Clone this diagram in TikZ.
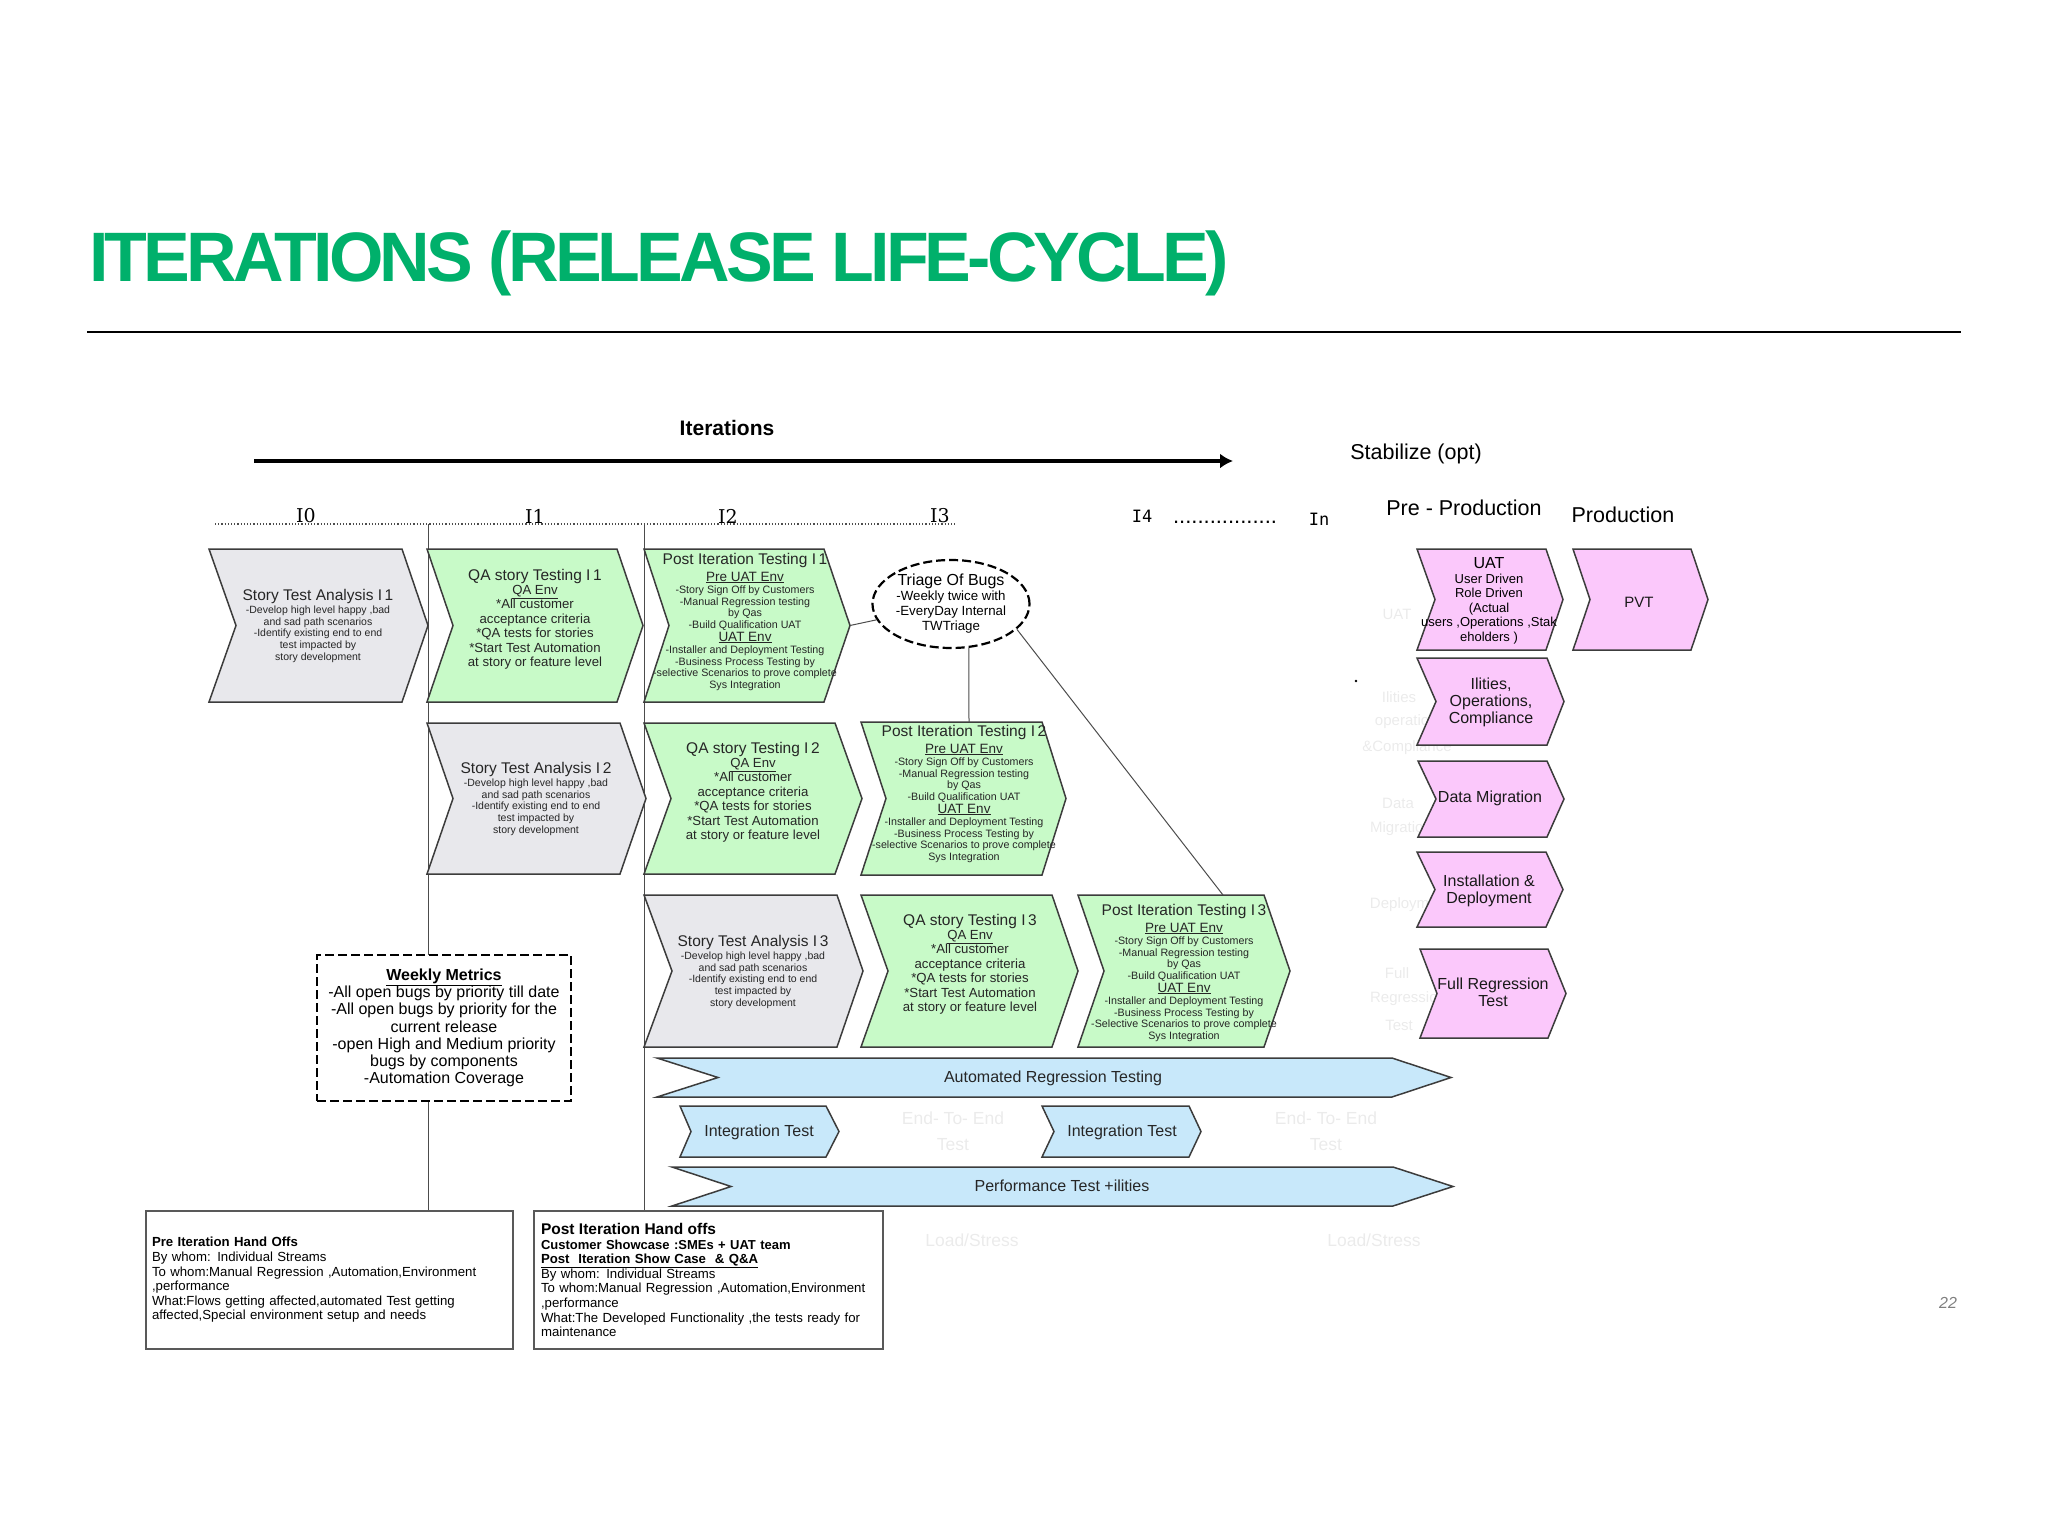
\documentclass[tikz,border=0pt]{standalone}
\usepackage{fontspec}
\setmainfont{Liberation Sans}
\newfontfamily\titlefont{Liberation Sans}[LetterSpace=-5.5]
\newfontfamily\slabfont{DejaVu Serif}
\newfontfamily\monofont{DejaVu Sans Mono}
\usetikzlibrary{arrows.meta,shapes.geometric}
\definecolor{TitleGreen}{HTML}{00B06B}
\definecolor{ChevGrey}{HTML}{E8E8EC}
\definecolor{ChevGreen}{HTML}{C8FAC8}
\definecolor{ChevPink}{HTML}{FBC8FB}
\definecolor{ChevBlue}{HTML}{C8E8FA}
\definecolor{Faint}{HTML}{EBEBEB}
\definecolor{Edge}{HTML}{3C3C3C}
\newcommand{\fs}[2]{\fontsize{#1}{#2}\selectfont}
% name, colour, left, notch, right, tip, top, bottom
\newcommand{\chevron}[8]{
	\draw [Chevron, fill=#2] (#3,#7) -- (#5,#7) -- (#6,{(#7+#8)/2}) -- (#5,#8) -- (#3,#8) -- (#4,{(#7+#8)/2}) -- cycle;
	\coordinate (#1) at (#6,{(#7+#8)/2});
}
\newcommand{\StoryText}[1]{{\fs{15.5}{15}Story Test Analysis #1}\\[1pt]-Develop high level happy ,bad\\and sad path scenarios\\-Identify existing end to end\\test impacted by\\story development}
\newcommand{\QAText}[1]{{\fs{15.5}{15}QA story Testing #1}\\\underline{QA Env}\\*All customer\\acceptance criteria\\*QA tests for stories\\*Start Test Automation\\at story or feature level}
\newcommand{\PostText}[2]{{\fs{15.5}{15}Post Iteration Testing #1}\\[3pt]{\fs{13.5}{15}\underline{Pre UAT Env}}\\[1pt]-Story Sign Off by Customers\\-Manual Regression testing\\by Qas\\-Build Qualification UAT\\[1pt]{\fs{13.5}{15}\underline{UAT Env}}\\[1pt]-Installer and Deployment Testing\\-Business Process Testing by\\-#2elective Scenarios to prove complete\\Sys Integration}
\begin{document}
\begin{tikzpicture}[x=1pt,y=-1pt]
	\tikzset{Chevron/.style={draw=Edge, line width=1.5pt, line join=miter}}
	\tikzset{StoryLabel/.style={inner sep=0pt, align=center, text=black!85, font=\fs{10.5}{11.8}}}
	\tikzset{QALabel/.style={inner sep=0pt, align=center, text=black!85, font=\fs{13.2}{14.4}}}
	\tikzset{PostLabel/.style={inner sep=0pt, align=center, text=black!85, font=\fs{10.7}{11.6}}}
	\tikzset{PinkLabel/.style={inner sep=0pt, align=center, text=black!90, font=\fs{16}{17}}}
	\tikzset{BlueLabel/.style={inner sep=0pt, align=center, text=black!85, font=\fs{16}{17}}}
	\tikzset{Header/.style={inner sep=0pt, align=center, font=\fs{21.5}{24}}}
	\tikzset{IterLabel/.style={inner sep=0pt, font=\fs{19}{20}\slabfont}}
	\tikzset{FaintLabel/.style={inner sep=0pt, text=Faint, font=\fs{15}{17}}}
	\tikzset{FaintWide/.style={inner sep=0pt, text=Faint, font=\fs{17.5}{17}}}
	\tikzset{HandOff/.style={draw=black!65, line width=1.2pt, fill=white, inner sep=0pt, align=left, font=\fs{13.2}{14.6}}}
	\tikzset{Link/.style={draw=black!70, line width=1pt}}
	\tikzset{LongDash/.style={draw, line width=2.2pt, dash pattern=on 9pt off 4pt}}
	\useasboundingbox (0,0) rectangle (2048,1536);

	\node (Title) at (89,263) [anchor=west, inner sep=0pt, text=TitleGreen, font=\fs{70}{72}\titlefont\bfseries] {ITERATIONS (RELEASE LIFE-CYCLE)};
	\coordinate (RuleL) at (87,332);
	\coordinate (RuleR) at (1961,332);
	\draw [line width=1.6pt] (RuleL) to (RuleR);
	\node (PageNo) at (1948,1303) [inner sep=0pt, text=black!50, font=\fs{16}{18}\itshape] {22};

	% headings
	\node (Iterations) at (727,428) [inner sep=0pt, font=\fs{21}{22}\bfseries] {Iterations};
	\coordinate (IterL) at (254,461);
	\coordinate (IterR) at (1233,461);
	\draw [-{Latex[length=13pt,width=15pt]}, line width=4.5pt] (IterL) to (IterR);
	\node (Stabilize) at (1416,454) [Header] {Stabilize (opt)};
	\node (PreProd) at (1464,508) [Header] {Pre - Production};
	\node (Prod) at (1623,515) [Header] {Production};
	\node (I0) at (306,516) [IterLabel] {I0};
	\node (I1) at (535,516) [IterLabel] {I1};
	\node (I2) at (728,516) [IterLabel] {I2};
	\node (I3) at (940,516) [IterLabel] {I3};
	\node (I4) at (1142,516) [inner sep=0pt, font=\fs{17}{20}\monofont] {I4};
	\node (Dots) at (1225,522) [inner sep=0pt, font=\fs{22}{20}] {.................};
	\node (In) at (1319,519) [inner sep=0pt, font=\fs{17}{20}\monofont] {In};
	\coordinate (DotL) at (215,524);
	\coordinate (DotR) at (955,524);
	\draw [dotted, line width=1.2pt, black!70] (DotL) to (DotR);
	\node (Speck) at (1356,681) [circle, fill, inner sep=1pt] {};

	% faint leftovers
	\node (FaintUAT) at (1397,614) [FaintLabel] {UAT};
	\node (FaintIlities) at (1399,697) [FaintLabel] {Ilities};
	\node (FaintOper) at (1410,722) [FaintLabel] {operations};
	\node (FaintComp) at (1407,748) [FaintLabel] {\&Compliance};
	\node (FaintData) at (1398,803) [FaintLabel] {Data};
	\node (FaintMigr) at (1401,829) [FaintLabel] {Migration};
	\node (FaintDepl) at (1410,905) [FaintLabel] {Deployment};
	\node (FaintFull) at (1397,973) [FaintLabel] {Full};
	\node (FaintRegr) at (1408,999) [FaintLabel] {Regression};
	\node (FaintTest) at (1399,1025) [FaintLabel] {Test};
	\node (FaintEnd1) at (953,1118) [FaintWide] {End-\ To-\ End};
	\node (FaintTest1) at (953,1145) [FaintWide] {Test};
	\node (FaintEnd2) at (1326,1118) [FaintWide] {End-\ To-\ End};
	\node (FaintTest2) at (1326,1145) [FaintWide] {Test};
	\node (FaintLoad1) at (972,1240) [FaintWide] {Load/Stress};
	\node (FaintLoad2) at (1374,1240) [FaintWide] {Load/Stress};

	% stream lines
	\coordinate (StreamA) at (428,524);
	\coordinate (StreamB) at (644,524);
	\node (PreHandOff) at (329.5,1280) [HandOff, minimum width=367, minimum height=138, text width=355] {\textbf{Pre Iteration Hand Offs}\\By whom: Individual Streams\\To whom:Manual Regression ,Automation,Environment\\,performance\\What:Flows getting affected,automated Test getting\\affected,Special environment setup and needs};
	\node (PostHandOff) at (708.5,1280) [HandOff, minimum width=349, minimum height=138, text width=335] {{\fs{15.5}{15}\textbf{Post Iteration Hand offs}}\\{\fs{13}{14.6}\textbf{Customer Showcase :SMEs + UAT team}}\\\textbf{\underline{Post\ \ Iteration Show Case \ \& Q\&A}}\\By whom: Individual Streams\\To whom:Manual Regression ,Automation,Environment\\,performance\\What:The Developed Functionality ,the tests ready for\\maintenance};
	\draw [Link] (StreamA) to (StreamA |- PreHandOff.north);
	\draw [Link] (StreamB) to (StreamB |- PostHandOff.north);
	\node (Weekly) at (444,1028) [LongDash, fill=white, inner sep=0pt, minimum width=254, minimum height=146, align=center, font=\fs{16}{17.2}] {\textbf{\underline{Weekly Metrics}}\\-All open bugs by priority till date\\-All open bugs by priority for the\\current release\\-open High and Medium priority\\bugs by components\\-Automation Coverage};

	% iteration chevrons
	\chevron{StoryA}{ChevGrey}{209}{236}{402}{428}{549}{702}
	\chevron{QAA}{ChevGreen}{427}{453}{617}{643}{549}{702}
	\chevron{PostA}{ChevGreen}{644}{669}{824}{850}{549}{702}
	\chevron{StoryB}{ChevGrey}{427}{453}{620}{646}{723}{874}
	\chevron{QAB}{ChevGreen}{644}{671}{835}{862}{723}{874}
	\chevron{PostB}{ChevGreen}{861}{886}{1042}{1066}{722}{875}
	\chevron{StoryC}{ChevGrey}{644}{672}{837}{863}{895}{1047}
	\chevron{QAC}{ChevGreen}{861}{888}{1052}{1078}{895}{1047}
	\chevron{PostC}{ChevGreen}{1078}{1104}{1264}{1290}{895}{1047}
	\node (StoryAText) at (318,626) [StoryLabel] {\StoryText{I\,1}};
	\node (QAAText) at (535,619) [QALabel] {\QAText{I\,1}};
	\node (PostAText) at (745,622) [PostLabel] {\PostText{I\,1}{s}};
	\node (StoryBText) at (536,799) [StoryLabel] {\StoryText{I\,2}};
	\node (QABText) at (753,792) [QALabel] {\QAText{I\,2}};
	\node (PostBText) at (964,794) [PostLabel] {\PostText{I\,2}{s}};
	\node (StoryCText) at (753,972) [StoryLabel] {\StoryText{I\,3}};
	\node (QACText) at (970,964) [QALabel] {\QAText{I\,3}};
	\node (PostCText) at (1184,973) [PostLabel] {\PostText{I\,3}{S}};

	% triage
	\node (Triage) at (951,604) [ellipse, LongDash, fill=white, inner sep=0pt, minimum width=157, minimum height=88, align=center, font=\fs{13.3}{15}] {{\fs{16}{15}Triage Of Bugs}\\-Weekly twice with\\-EveryDay Internal\\TWTriage};
	\coordinate (PostBTop) at (969,722);
	\coordinate (PostCTop) at (1223,895);
	\draw [Link] (PostA) to (Triage.192);
	\draw [Link] (Triage.-68) to (PostBTop);
	\draw [Link] (Triage.-21) to (PostCTop);

	% pre production
	\chevron{UAT}{ChevPink}{1417}{1435}{1546}{1563}{549}{650}
	\chevron{PVT}{ChevPink}{1573}{1590}{1691}{1708}{549}{650}
	\chevron{Ilities}{ChevPink}{1417}{1436}{1547}{1564}{658}{745}
	\chevron{DataMig}{ChevPink}{1418}{1436}{1547}{1564}{761}{837}
	\chevron{Install}{ChevPink}{1417}{1435}{1546}{1563}{852}{927}
	\chevron{FullReg}{ChevPink}{1420}{1437}{1548}{1566}{949}{1038}
	\node (UATText) at (1489,601) [inner sep=0pt, align=center, font=\fs{13}{14.5}] {{\fs{16}{15}UAT}\\User Driven\\Role Driven\\(Actual\\users ,Operations ,Stak\\eholders )};
	\node (PVTText) at (1639,602) [PinkLabel, font=\fs{15}{17}] {PVT};
	\node (IlitiesText) at (1491,702) [PinkLabel] {Ilities,\\Operations,\\Compliance};
	\node (DataText) at (1490,798) [PinkLabel] {Data Migration};
	\node (InstallText) at (1489,891) [PinkLabel] {Installation \&\\Deployment};
	\node (FullText) at (1493,992) [PinkLabel] {Full Regression\\Test};

	% long runs
	\chevron{AutoReg}{ChevBlue}{657}{718}{1392}{1451}{1058}{1097}
	\chevron{IntegA}{ChevBlue}{680}{691}{826}{839}{1106}{1157}
	\chevron{IntegB}{ChevBlue}{1042}{1054}{1189}{1201}{1106}{1157}
	\chevron{PerfTest}{ChevBlue}{672}{731}{1393}{1453}{1167}{1206}
	\node (AutoText) at (1053,1078) [BlueLabel] {Automated Regression Testing};
	\node (IntegAText) at (759,1132) [BlueLabel] {Integration Test};
	\node (IntegBText) at (1122,1132) [BlueLabel] {Integration Test};
	\node (PerfText) at (1062,1186) [BlueLabel] {Performance Test +ilities};
\end{tikzpicture}
\end{document}
